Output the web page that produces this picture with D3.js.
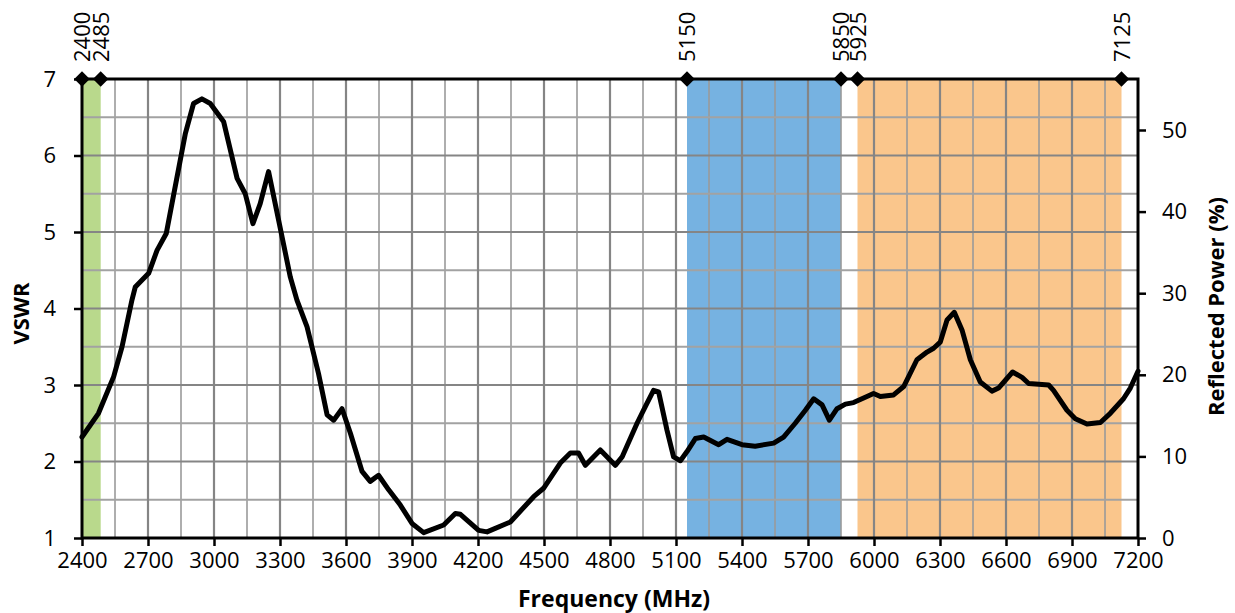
<!DOCTYPE html>
<html>
<head>
<meta charset="utf-8">
<script src="https://cdn.jsdelivr.net/npm/d3@7"></script>
<style>
  html, body { margin: 0; padding: 0; background: #fff; }
  svg { display: block; }
  text { font-family: "Open Sans", "Liberation Sans", sans-serif; fill: #000; }
</style>
</head>
<body>
<svg id="chart" width="1235" height="613"></svg>
<script>
// Measured antenna match: frequency (MHz) vs VSWR
const freqMHz = [
  2400, 2475, 2544, 2582, 2627, 2642, 2703, 2741, 2783, 2832,
  2870, 2907, 2945, 2983, 3044, 3105, 3142, 3177, 3210, 3248,
  3294, 3347, 3377, 3423, 3475, 3514, 3544, 3582, 3620, 3673,
  3710, 3748, 3794, 3847, 3900, 3953, 4044, 4097, 4120, 4203,
  4241, 4347, 4453, 4498, 4574, 4620, 4657, 4688, 4756, 4824,
  4855, 4923, 4961, 4998, 5021, 5059, 5089, 5120, 5150, 5188,
  5226, 5294, 5332, 5400, 5460, 5544, 5589, 5642, 5688, 5726,
  5764, 5797, 5832, 5870, 5907, 5968, 5998, 6029, 6089, 6135,
  6195, 6241, 6271, 6301, 6332, 6365, 6400, 6438, 6483, 6536,
  6566, 6630, 6673, 6703, 6794, 6816, 6877, 6915, 6968, 7029,
  7074, 7134, 7165, 7200
];
const vswr = [
  2.32, 2.63, 3.11, 3.50, 4.11, 4.28, 4.46, 4.76, 4.98, 5.72,
  6.29, 6.68, 6.74, 6.68, 6.44, 5.70, 5.50, 5.11, 5.37, 5.79,
  5.15, 4.41, 4.11, 3.76, 3.15, 2.61, 2.54, 2.69, 2.37, 1.87,
  1.74, 1.82, 1.63, 1.43, 1.19, 1.07, 1.17, 1.32, 1.31, 1.10,
  1.08, 1.21, 1.54, 1.65, 1.98, 2.11, 2.11, 1.95, 2.15, 1.95,
  2.06, 2.50, 2.72, 2.93, 2.91, 2.41, 2.06, 2.01, 2.13, 2.30,
  2.32, 2.22, 2.29, 2.22, 2.20, 2.24, 2.32, 2.50, 2.67, 2.82,
  2.74, 2.54, 2.69, 2.75, 2.77, 2.85, 2.89, 2.85, 2.87, 2.98,
  3.33, 3.43, 3.48, 3.56, 3.85, 3.95, 3.72, 3.33, 3.04, 2.92,
  2.96, 3.17, 3.10, 3.02, 3.00, 2.93, 2.67, 2.56, 2.49, 2.51,
  2.63, 2.82, 2.96, 3.18
];

// Wi-Fi bands (MHz): 2.4 GHz, 5 GHz, 6 GHz
const bandLow  = [2400, 5150, 5925];
const bandHigh = [2485, 5850, 7125];
const bandFill = ["#b9d98c", "#76b2e1", "#fac68c"];

// Band edge markers along the top
const edgeFreqs = [2400, 2485, 5150, 5850, 5925, 7125];

const xTicks = [2400, 2700, 3000, 3300, 3600, 3900, 4200, 4500, 4800, 5100, 5400, 5700, 6000, 6300, 6600, 6900, 7200];
const yTicks = [1, 2, 3, 4, 5, 6, 7];
const rpTicks = [0, 10, 20, 30, 40, 50];

const vswrMin = 1, vswrMax = 7;
// reflected power at the top of the VSWR axis: ((s-1)/(s+1))^2
const rpMax = Math.pow((vswrMax - 1) / (vswrMax + 1), 2) * 100;

const svg = d3.select("#chart");
const L = 82, R = 1138, T = 79, B = 538;

const x = d3.scaleLinear().domain([2400, 7200]).range([L, R]);
const y = d3.scaleLinear().domain([vswrMin, vswrMax]).range([B, T]);
const yR = d3.scaleLinear().domain([0, rpMax]).range([B, T]);

// band shading
svg.append("g").selectAll("rect")
  .data(bandLow.map((lo, i) => ({ lo, hi: bandHigh[i], c: bandFill[i] })))
  .join("rect")
  .attr("x", d => x(d.lo))
  .attr("y", T)
  .attr("width", d => x(d.hi) - x(d.lo))
  .attr("height", B - T)
  .attr("fill", d => d.c);

// grid: minor every 150 MHz / 0.5 VSWR, major every 300 MHz / 1 VSWR
const grid = svg.append("g");
const minorX = d3.range(2400 + 150, 7200, 300);
const minorY = d3.range(1.5, 7, 1);
grid.selectAll(".mx").data(minorX).join("line")
  .attr("x1", d => x(d)).attr("x2", d => x(d)).attr("y1", T).attr("y2", B)
  .attr("stroke", "#9a9a9a").attr("stroke-width", 1.6);
grid.selectAll(".my").data(minorY).join("line")
  .attr("x1", L).attr("x2", R).attr("y1", d => y(d)).attr("y2", d => y(d))
  .attr("stroke", "#a2a2a2").attr("stroke-width", 1.8);
grid.selectAll(".Mx").data(xTicks.slice(1, -1)).join("line")
  .attr("x1", d => x(d)).attr("x2", d => x(d)).attr("y1", T).attr("y2", B)
  .attr("stroke", "#858585").attr("stroke-width", 2.2);
grid.selectAll(".My").data(yTicks.slice(1, -1)).join("line")
  .attr("x1", L).attr("x2", R).attr("y1", d => y(d)).attr("y2", d => y(d))
  .attr("stroke", "#858585").attr("stroke-width", 2.2);

// VSWR curve
const line = d3.line().x((d, i) => x(freqMHz[i])).y(d => y(d));
svg.append("path")
  .datum(vswr)
  .attr("d", line)
  .attr("fill", "none")
  .attr("stroke", "#000")
  .attr("stroke-width", 5)
  .attr("stroke-linejoin", "round")
  .attr("stroke-linecap", "round");

// axes
const axisStyle = g => {
  g.select(".domain").remove();
  g.selectAll(".tick line").attr("stroke", "#000").attr("stroke-width", 2.5);
  g.selectAll(".tick text").style("font-size", "22px").style("font-family", "'Open Sans', sans-serif").attr("fill", "#000");
};

svg.append("g").attr("transform", `translate(0,${B})`)
  .call(d3.axisBottom(x).tickValues(xTicks).tickFormat(d3.format("d")).tickSize(8).tickPadding(6))
  .call(axisStyle);

svg.append("g").attr("transform", `translate(${L},0)`)
  .call(d3.axisLeft(y).tickValues(yTicks).tickFormat(d3.format("d")).tickSize(8).tickPadding(18))
  .call(axisStyle);

svg.append("g").attr("transform", `translate(${R},0)`)
  .call(d3.axisRight(yR).tickValues(rpTicks).tickFormat(d3.format("d")).tickSize(8).tickPadding(16))
  .call(axisStyle);

// plot frame
svg.append("rect")
  .attr("x", L).attr("y", T).attr("width", R - L).attr("height", B - T)
  .attr("fill", "none").attr("stroke", "#000").attr("stroke-width", 3);

// band edge diamonds and labels
const edges = svg.append("g");
edges.selectAll("path").data(edgeFreqs).join("path")
  .attr("d", d3.symbol().type(d3.symbolSquare).size(120))
  .attr("transform", d => `translate(${x(d)},${T}) rotate(45)`)
  .attr("fill", "#000");
edges.selectAll("text").data(edgeFreqs).join("text")
  .attr("transform", d => `translate(${x(d) + 8},${T - 17}) rotate(-90)`)
  .attr("text-anchor", "start")
  .style("font-size", "22px")
  .text(d => d);

// titles
svg.append("text")
  .attr("x", (L + R) / 2 + 4).attr("y", 607)
  .attr("text-anchor", "middle")
  .style("font-size", "23px").style("font-weight", "bold")
  .text("Frequency (MHz)");

svg.append("text")
  .attr("transform", `translate(29,${(T + B) / 2 + 5}) rotate(-90)`)
  .attr("text-anchor", "middle")
  .style("font-size", "22px").style("font-weight", "bold")
  .text("VSWR");

svg.append("text")
  .attr("transform", `translate(1224,${(T + B) / 2 - 2}) rotate(-90)`)
  .attr("text-anchor", "middle")
  .style("font-size", "22px").style("font-weight", "bold")
  .text("Reflected Power (%)");
</script>
</body>
</html>
